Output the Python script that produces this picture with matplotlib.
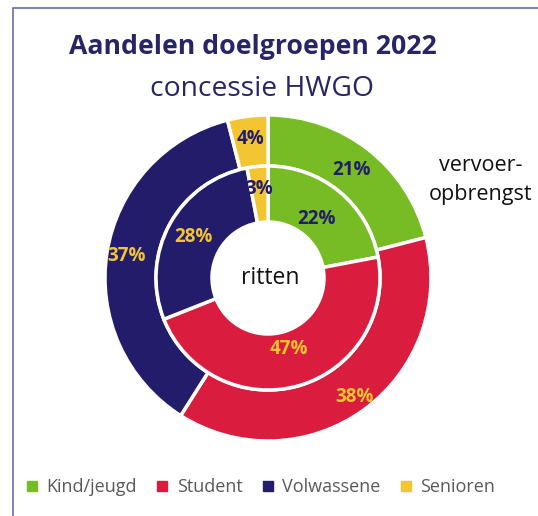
import matplotlib
matplotlib.use("Agg")
import matplotlib.pyplot as plt
from matplotlib.patches import Rectangle
from matplotlib.lines import Line2D
import numpy as np

categories = ["Kind/jeugd", "Student", "Volwassene", "Senioren"]
opbrengst = [21, 38, 37, 4]   # outer ring: vervoeropbrengst
ritten = [22, 47, 28, 3]      # inner ring: ritten
colors = ["#78BC25", "#DA1C3E", "#221C6B", "#F2C531"]
label_colors = ["#221C6B", "#F2C531", "#F2C531", "#221C6B"]

plt.rcParams['font.family'] = ['Open Sans', 'DejaVu Sans']

W, H = 538, 516
fig = plt.figure(figsize=(W / 100, H / 100), dpi=100)
ax = fig.add_axes([0, 0, 1, 1])

cx, cy = 268, H - 278
R_out, R_mid, R_in = 163, 112, 56

w1, t1, a1 = ax.pie(opbrengst, radius=R_out, center=(cx, cy), colors=colors,
                    startangle=90, counterclock=False, autopct='%d%%', pctdistance=0.86,
                    wedgeprops=dict(width=R_out - R_mid, edgecolor='white', linewidth=2.5),
                    textprops=dict(fontsize=13.5, fontweight='bold'))
w2, t2, a2 = ax.pie(ritten, radius=R_mid, center=(cx, cy), colors=colors,
                    startangle=90, counterclock=False, autopct='%d%%', pctdistance=0.72,
                    wedgeprops=dict(width=R_mid - R_in, edgecolor='white', linewidth=2.5),
                    textprops=dict(fontsize=13.5, fontweight='bold'))

# label placement (radial fraction of each ring's radius)
outer_frac = [0.84, 0.90, 0.88, 0.86]
inner_frac = [0.68, 0.66, 0.76, 0.80]
for wedges, txts, R, fracs in ((w1, a1, R_out, outer_frac), (w2, a2, R_mid, inner_frac)):
    for wdg, t, c, f in zip(wedges, txts, label_colors, fracs):
        ang = np.deg2rad((wdg.theta1 + wdg.theta2) / 2)
        t.set_position((cx + f * R * np.cos(ang), cy + f * R * np.sin(ang)))
        t.set_color(c)

ax.set_xlim(0, W)
ax.set_ylim(0, H)
ax.set_aspect('equal')
ax.axis('off')

ax.text(cx + 2, cy, "ritten", ha='center', va='center', fontsize=16.5, color='#111111')
ax.text(481, H - 180, "vervoer-\nopbrengst", ha='center', va='center', fontsize=15.5,
        color='#111111', linespacing=1.45)

fig.text(253 / W, 1 - 47 / H, "Aandelen doelgroepen 2022", ha='center', va='center',
         fontsize=19.2, fontweight='bold', color='#272566')
fig.text(262 / W, 1 - 89 / H, "concessie HWGO", ha='center', va='center',
         fontsize=20.3, color='#272566')

# legend
handles = [Line2D([0], [0], marker='s', linestyle='', markersize=7,
                  markerfacecolor=c, markeredgecolor=c) for c in colors]
leg = fig.legend(handles, categories, loc='center', bbox_to_anchor=(260 / W, 1 - 487 / H),
                 ncol=4, frameon=False, fontsize=13, handlelength=0.8, handletextpad=0.4,
                 columnspacing=1.0)
for t in leg.get_texts():
    t.set_color('#595959')

fig.patches.append(Rectangle((13 / W, -0.1), 1.2, 1 - 8 / H + 0.1, transform=fig.transFigure,
                             fill=False, edgecolor='#6B6BA8', linewidth=1.2))

fig.savefig("out.png", dpi=100)
